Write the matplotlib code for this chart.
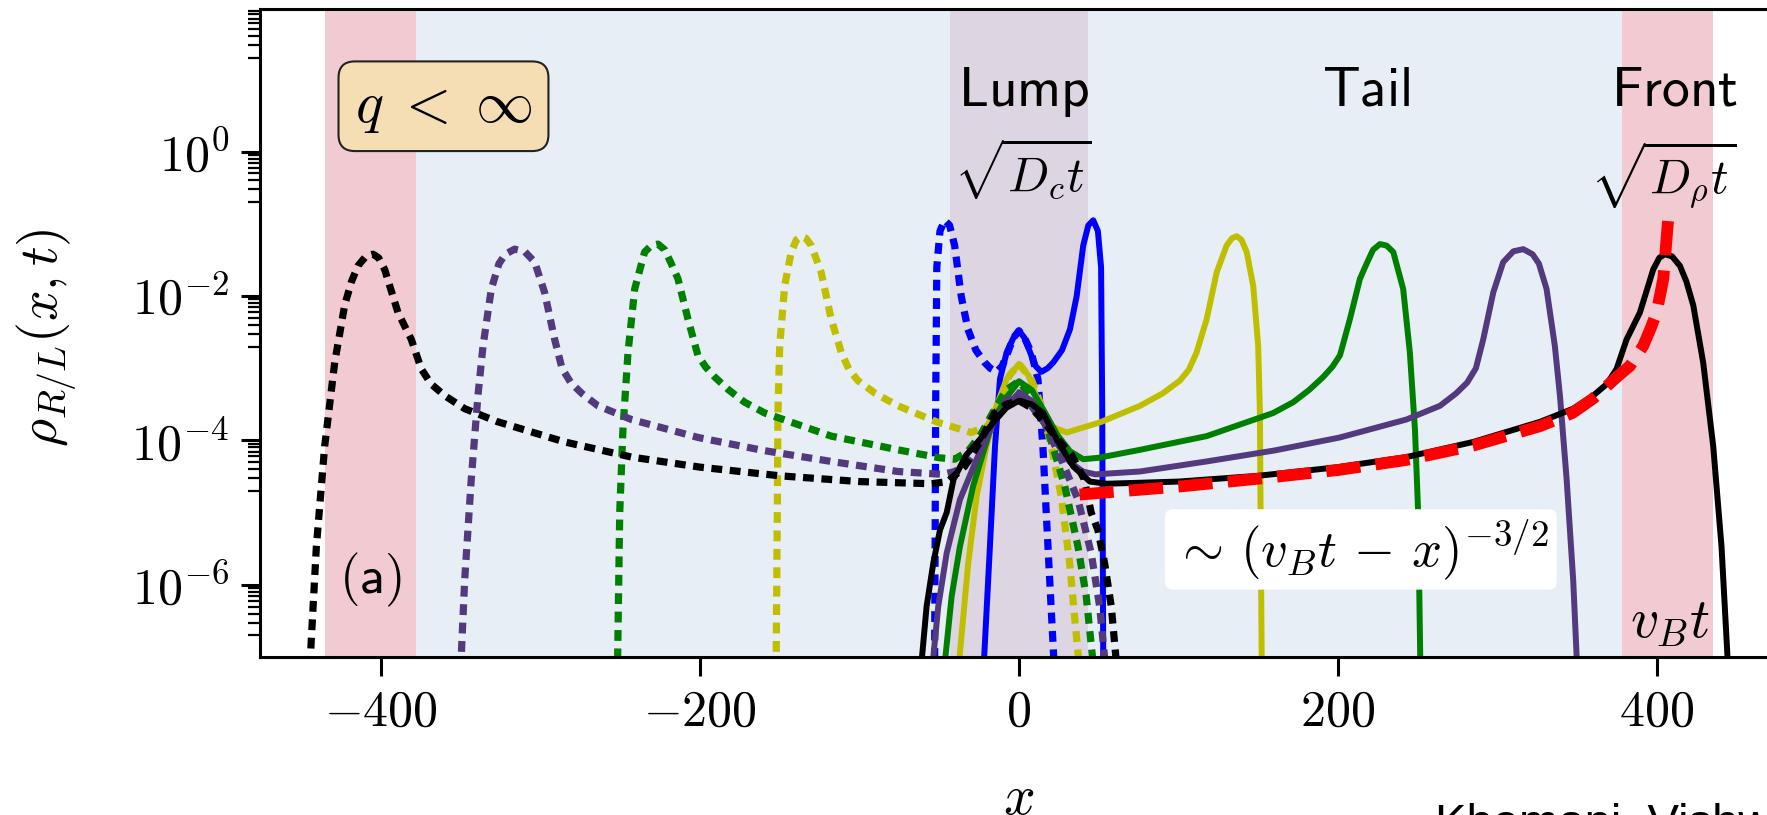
import numpy as np
import matplotlib
matplotlib.use("Agg")
import matplotlib.pyplot as plt
from matplotlib.ticker import FixedLocator, NullFormatter

plt.rcParams['mathtext.fontset'] = 'cm'

# Shaded regions (x positions)
front_lo, front_hi = 378, 435
lump_half = 43

# Solid curves rho_R(x, t) as log10(rho).
# The dotted rho_L curves are the same data mirrored (x -> -x).
blue_x = [-22.5, -18.2, -15.0, -11.9, -7.7, -3.5, 0.0, 3.5, 7.0, 10.5, 14.0, 18.0, 21.5,
          27.0, 32.0, 36.2, 40.3, 43.5, 46.6, 49.5, 51.5, 52.2, 52.9]
blue_log = [-7.3, -5.47, -4.08, -3.15, -2.78, -2.58, -2.48, -2.58, -2.78, -2.97, -3.05, -3.0,
            -2.92, -2.75, -2.46, -2.0, -1.30, -1.02, -0.95, -1.10, -1.6, -3.5, -7.3]

yellow_x = [-38.5, -31.8, -26.5, -20.3, -14.0, -7.7, 0.0, 6.0, 12.0, 19.4, 29.9, 50.8, 75.9,
            90.0, 101.0, 106.5, 111.4, 117.7, 124.0, 130.2, 133.5, 136.5, 139.5, 142.8, 146.9,
            150.0, 151.1, 151.5, 152.3]
yellow_log = [-7.3, -5.70, -4.77, -4.08, -3.52, -3.15, -2.94, -3.1, -3.45, -3.80, -3.89, -3.75,
              -3.52, -3.35, -3.17, -3.02, -2.78, -2.32, -1.67, -1.30, -1.20, -1.17, -1.22,
              -1.39, -1.86, -2.69, -3.62, -5.0, -7.3]

green_x = [-47.5, -42.2, -37.0, -28.7, -22.4, -16.0, -7.7, 0.0, 8.0, 16.0, 24.0, 32.0, 40.3,
           50.0, 75.9, 117.7, 159.4, 172.0, 182.0, 190.8, 196.5, 201.3, 207.5, 213.8, 218.0,
           222.0, 226.3, 230.5, 234.7, 240.9, 245.1, 248.3, 250.3, 251.8]
green_log = [-7.3, -6.16, -5.47, -4.63, -4.17, -3.71, -3.4, -3.18, -3.3, -3.6, -3.92, -4.15,
             -4.26, -4.24, -4.13, -3.94, -3.62, -3.47, -3.30, -3.12, -2.98, -2.82, -2.32, -1.76,
             -1.55, -1.36, -1.28, -1.30, -1.39, -1.90, -2.78, -3.85, -5.0, -7.3]

purple_x = [-55.0, -50.6, -45.3, -37.0, -26.5, -16.0, -7.7, 0.0, 8.0, 16.0, 24.0, 32.0, 40.0,
            48.0, 76.0, 118.0, 160.0, 201.0, 243.0, 264.0, 274.0, 281.0, 286.5, 291.1, 297.4,
            303.6, 310.0, 316.2, 322.0, 326.0, 330.8, 336.0, 339.2, 343.4, 347.5, 350.3]
purple_log = [-7.3, -6.30, -5.56, -4.82, -4.26, -3.76, -3.52, -3.34, -3.45, -3.75, -4.05, -4.3,
              -4.43, -4.47, -4.43, -4.29, -4.14, -3.96, -3.71, -3.52, -3.35, -3.20, -3.0,
              -2.60, -1.95, -1.53, -1.38, -1.35, -1.42, -1.55, -1.90, -2.69, -3.38, -4.54,
              -5.93, -7.3]

black_x = [-62.0, -57.9, -53.7, -49.5, -45.3, -41.0, -33.0, -25.0, -16.0, -8.0, 0.0, 8.0, 15.2,
           24.0, 34.0, 44.5, 55.0, 100.0, 150.0, 200.0, 243.0, 285.0, 327.0, 347.5, 360.0,
           368.5, 374.7, 381.0, 389.3, 397.7, 401.5, 405.0, 409.5, 414.4, 418.5, 422.8, 429.0,
           435.3, 440.5, 445.0]
black_log = [-7.3, -6.30, -5.70, -5.24, -5.0, -4.54, -4.2, -4.0, -3.75, -3.55, -3.45, -3.5,
             -3.62, -4.0, -4.36, -4.57, -4.60, -4.57, -4.49, -4.37, -4.23, -4.02, -3.74, -3.56,
             -3.38, -3.22, -3.01, -2.6, -2.23, -1.63, -1.47, -1.42, -1.45, -1.58, -1.80, -2.13,
             -2.92, -4.08, -5.47, -7.3]

# asymptote ~ (v_B t - x)^(-3/2)
red_x = [38.0, 100.0, 150.0, 200.0, 243.0, 285.0, 327.0, 347.0, 360.0, 368.5, 376.0, 383.0,
         391.4, 396.0, 399.8, 404.0, 407.0]
red_log = [-4.75, -4.64, -4.53, -4.41, -4.27, -4.07, -3.80, -3.62, -3.42, -3.25, -3.1, -2.97,
           -2.69, -2.45, -2.23, -1.76, -0.95]

x_ticks = [-400, -200, 0, 200, 400]
y_ticks = [1e-6, 1e-4, 1e-2, 1e0]
y_tick_labels = [r'$10^{-6}$', r'$10^{-4}$', r'$10^{-2}$', r'$10^{0}$']

front_color = '#f2cad1'
tail_color = '#e8eef5'
lump_color = '#ddd5e1'
purple = '#53397d'

fig = plt.figure(figsize=(17.67, 8.15), dpi=100)
ax = fig.add_axes([0.147, 0.1939, 0.8593, 0.7951])
ax.set_yscale('log')

# background regions
ax.axvspan(-front_hi, -front_lo, color=front_color, lw=0, zorder=0)
ax.axvspan(front_lo, front_hi, color=front_color, lw=0, zorder=0)
ax.axvspan(-front_lo, -lump_half, color=tail_color, lw=0, zorder=0)
ax.axvspan(lump_half, front_lo, color=tail_color, lw=0, zorder=0)
ax.axvspan(-lump_half, lump_half, color=lump_color, lw=0, zorder=0)

curves = [(blue_x, blue_log, 'b'),
          (yellow_x, yellow_log, 'y'),
          (green_x, green_log, 'g'),
          (purple_x, purple_log, purple),
          (black_x, black_log, 'k')]
for xs, logs, c in curves:
    xs = np.array(xs)
    rho = 10.0 ** np.array(logs)
    ax.plot(xs, rho, color=c, lw=4.3)
    # rho_L: mirror image, dotted
    ax.plot(-xs, rho, color=c, lw=5.2, dashes=(1.5, 1.05))

ax.plot(red_x, 10.0 ** np.array(red_log), color='r', lw=8.5, dashes=(2.9, 1.3))

ax.set_xlim(-476, 476)
ax.set_ylim(1e-7, 95)

ax.set_xticks(x_ticks, labels=[r'$%d$' % v for v in x_ticks])
ax.set_yticks(y_ticks, labels=y_tick_labels)
minor = [s * 10.0 ** d for d in (-7, -5, -3, -1, 1) for s in range(2, 10)]
ax.yaxis.set_minor_locator(FixedLocator(minor))
ax.yaxis.set_minor_formatter(NullFormatter())
ax.tick_params(axis='both', which='major', length=14, width=2.2, labelsize=36, pad=8)
ax.tick_params(axis='y', which='minor', length=8.5, width=1.6)
for sp in ax.spines.values():
    sp.set_linewidth(2.2)

ax.set_xlabel(r'$x$', fontsize=40)
ax.xaxis.set_label_coords(0.5, -0.177)
fig.text(47 / 1767, 1 - 338 / 815, r'$\rho_{R/L}(x,t)$', fontsize=39, rotation=90,
         ha='center', va='center')

# annotations
ax.text(3, 10 ** 0.64, r'$\mathsf{Lump}$', ha='center', va='baseline', fontsize=40)
ax.text(217.6, 10 ** 0.64, r'$\mathsf{Tail}$', ha='center', va='baseline', fontsize=40)
ax.text(411, 10 ** 0.64, r'$\mathsf{Front}$', ha='center', va='baseline', fontsize=40)
ax.text(2.5, 10 ** -0.24, r'$\sqrt{D_c t}$', ha='center', va='center', fontsize=35)
ax.text(404, 10 ** -0.32, r'$\sqrt{D_\rho t}$', ha='center', va='center', fontsize=35)
ax.text(408.5, 10 ** -6.53, r'$v_B t$', ha='center', va='center', fontsize=40)
ax.text(-406.6, 10 ** -5.93, r'$\mathsf{(a)}$', ha='center', va='center', fontsize=38)
ax.text(-360.8, 10 ** 0.63, r'$q\;<\;\infty$', ha='center', va='center', fontsize=42,
        bbox=dict(boxstyle='round,pad=0.28', facecolor='wheat', edgecolor='#222222', lw=1.5))
ax.text(214.4, 10 ** -5.51, r'$\sim\,(v_B t\, -\, x)^{-3/2}$', ha='center', va='center',
        fontsize=38, zorder=5,
        bbox=dict(boxstyle='round,pad=0.15', facecolor='white', edgecolor='none'))

fig.text(1435 / 1767, -0.027, 'Khemani, Vishwanath, Huse', fontsize=34,
         family='Liberation Sans', ha='left', va='baseline')

fig.savefig('out.png', dpi=100)
